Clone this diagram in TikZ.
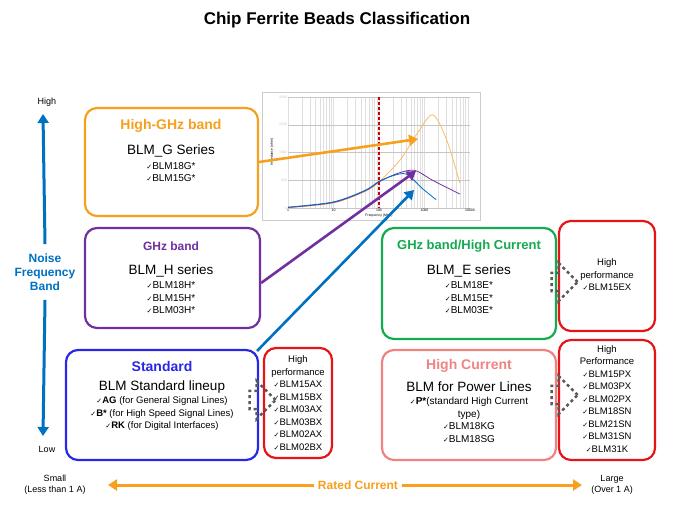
\documentclass[tikz,border=0pt]{standalone}
\usepackage{fontspec}
\setmainfont{Liberation Sans}
\newfontfamily\symfont{DejaVu Sans}
\usetikzlibrary{shapes, shapes.arrows, arrows.meta, calc, positioning}
\definecolor{mOrange}{RGB}{246,160,30}
\definecolor{mPurple}{RGB}{112,48,160}
\definecolor{mBlue}{RGB}{40,40,230}
\definecolor{mGreen}{RGB}{20,170,80}
\definecolor{mPink}{RGB}{240,130,130}
\definecolor{mRed}{RGB}{230,20,20}
\definecolor{mAxis}{RGB}{0,112,192}
\newcommand{\ck}{{\symfont\fontsize{7}{8}\selectfont ✓}}
\tikzstyle{group} = [rectangle, rounded corners=12pt, line width=2.2pt, fill=white]
\tikzstyle{perf} = [rectangle, rounded corners=12pt, line width=2.2pt, draw=mRed, fill=white]
\tikzstyle{head} = [font=\bfseries\fontsize{14}{15}\selectfont]
\tikzstyle{series} = [font=\fontsize{13.5}{14}\selectfont]
\tikzstyle{items} = [font=\fontsize{10}{12.5}\selectfont, align=center]
\tikzstyle{upgrade} = [single arrow, draw=gray!70!black, dashed, line width=2.5pt,
    minimum height=26pt, minimum width=38pt, single arrow head extend=5pt]
\tikzstyle{pointer} = [line width=2.6pt, -{Triangle[length=9pt,width=11pt]}]
\tikzstyle{band} = [line width=3pt, mAxis, -{Triangle[length=9pt,width=11pt]}]
\tikzstyle{rated} = [line width=3pt, mOrange, -{Triangle[length=9pt,width=11pt]}]
\begin{document}
\begin{tikzpicture}[x=1pt, y=-1pt,
    declare function={fx(\f)=288+45.5*log10(\f); zy(\z)=208-0.0555*\z;}]
    \useasboundingbox (0,0) rectangle (675,506);
    % Title
    \node [font=\bfseries\fontsize{17}{19}\selectfont] (title) at (337,20) {Chip Ferrite Beads Classification};
    % Chart
    \node [draw=gray!40, minimum width=218pt, minimum height=128pt, inner sep=0] (chart) at (371,156) {};
    \foreach \d in {0,1,2,3}
        \foreach \m in {1,...,9}
            \draw [gray!25, line width=0.3pt] ({fx(\m*10^\d)},97) -- ({fx(\m*10^\d)},208);
    \foreach \z in {0,500,1000,1500,2000}
        \draw [gray!45, line width=0.4pt] (288,{zy(\z)}) -- (470,{zy(\z)})
            node [at start, left, font=\fontsize{3.5}{4}\selectfont, inner sep=1pt] {\z};
    \foreach \f/\t in {1/1,10/10,100/100,1000/1000,10000/10000}
        \node [font=\fontsize{3.5}{4}\selectfont, inner sep=1pt, below] at ({fx(\f)},208) {\t};
    \node [font=\fontsize{3.5}{4}\selectfont, rotate=90] (ylab) at (272,152) {Impedance (ohm)};
    \node [font=\fontsize{3.5}{4}\selectfont] (xlab) at (379,216) {Frequency (MHz)};
    \draw [mOrange!70, line width=0.8pt] plot [smooth] coordinates {({fx(1)},{zy(5)}) ({fx(10)},{zy(90)}) ({fx(50)},{zy(300)}) ({fx(100)},{zy(470)}) ({fx(300)},{zy(880)}) ({fx(700)},{zy(1350)}) ({fx(1500)},{zy(1680)}) ({fx(3000)},{zy(1250)}) ({fx(6000)},{zy(450)})};
    \draw [mPurple, line width=0.8pt] plot [smooth] coordinates {({fx(1)},{zy(10)}) ({fx(10)},{zy(100)}) ({fx(50)},{zy(310)}) ({fx(100)},{zy(470)}) ({fx(250)},{zy(620)}) ({fx(600)},{zy(680)}) ({fx(1500)},{zy(500)}) ({fx(6000)},{zy(250)})};
    \draw [mAxis, line width=0.8pt] plot [smooth] coordinates {({fx(1)},{zy(15)}) ({fx(10)},{zy(110)}) ({fx(50)},{zy(320)}) ({fx(100)},{zy(480)}) ({fx(200)},{zy(580)}) ({fx(400)},{zy(610)}) ({fx(900)},{zy(350)}) ({fx(1800)},{zy(150)})};
    \draw [red!80!black, line width=2.5pt, dash pattern=on 2.5pt off 2.5pt] ({fx(100)},97) -- ({fx(100)},208);
    % Groups
    \node [group, draw=mOrange, minimum width=173pt, minimum height=108pt] (ghigh) at (171.5,162) {};
    \node [group, draw=mPurple, minimum width=175pt, minimum height=100pt] (ghz) at (172.5,278) {};
    \node [group, draw=mBlue, minimum width=192pt, minimum height=110pt] (std) at (162,405) {};
    \node [perf, minimum width=68pt, minimum height=110pt] (stdperf) at (298,403) {};
    \node [group, draw=mGreen, minimum width=174pt, minimum height=111pt] (ghzcur) at (469,283.5) {};
    \node [perf, minimum width=96pt, minimum height=110pt] (experf) at (607,276) {};
    \node [group, draw=mPink, minimum width=174pt, minimum height=110pt] (cur) at (469,405) {};
    \node [perf, minimum width=96pt, minimum height=120pt] (pxperf) at (607,400) {};
    % Texts
    \node [head, text=mOrange] at (171,126) {High-GHz band};
    \node [series] at (171,151) {BLM\_G Series};
    \node [items] at (171,172) {\ck BLM18G*\\ \ck BLM15G*};
    \node [head, text=mPurple, font=\bfseries\fontsize{12}{13}\selectfont] at (171,246) {GHz band};
    \node [series] at (171,271) {BLM\_H series};
    \node [items] at (171,298) {\ck BLM18H*\\ \ck BLM15H*\\ \ck BLM03H*};
    \node [head, text=mBlue] at (162,366) {Standard};
    \node [series] at (162,387) {BLM Standard lineup};
    \node [items, font=\fontsize{9.5}{12.5}\selectfont] at (162,414) {\ck\textbf{AG} (for General Signal Lines)\\ \ck\textbf{B*} (for High Speed Signal Lines)\\ \ck\textbf{RK} (for Digital Interfaces)};
    \node [items, font=\fontsize{9.5}{12.5}\selectfont] at (298,403) {High\\performance\\ \ck BLM15AX\\ \ck BLM15BX\\ \ck BLM03AX\\ \ck BLM03BX\\ \ck BLM02AX\\ \ck BLM02BX};
    \node [head, text=mGreen, font=\bfseries\fontsize{13}{14}\selectfont] at (469,246) {GHz band/High Current};
    \node [series] at (469,271) {BLM\_E series};
    \node [items] at (469,298) {\ck BLM18E*\\ \ck BLM15E*\\ \ck BLM03E*};
    \node [items, font=\fontsize{9.5}{12.5}\selectfont] at (607,275) {High\\performance\\ \ck BLM15EX};
    \node [head, text=mPink] at (469,366) {High Current};
    \node [series] at (469,387) {BLM for Power Lines};
    \node [items] at (469,420) {\ck\textbf{P*}(standard High Current\\type)\\ \ck BLM18KG\\ \ck BLM18SG};
    \node [items, font=\fontsize{9.5}{12.5}\selectfont] at (607,399) {High\\Performance\\ \ck BLM15PX\\ \ck BLM03PX\\ \ck BLM02PX\\ \ck BLM18SN\\ \ck BLM21SN\\ \ck BLM31SN\\ \ck BLM31K};
    % Dashed upgrade arrows
    \node [upgrade] (up1) at (258,400) {};
    \node [upgrade] (up2) at (560,282) {};
    \node [upgrade] (up3) at (560,395) {};
    % Pointers into chart
    \coordinate (tipG) at (418,139);
    \coordinate (tipH) at (416,171);
    \coordinate (tipS) at (414,190);
    \draw [pointer, mOrange] (ghigh.east |- 0,162) -- (tipG);
    \draw [pointer, mPurple] (ghz.east |- 0,283) -- (tipH);
    \draw [pointer, mAxis] (std.north east) ++(-2,2) -- (tipS);
    % Axes
    \node [font=\fontsize{9}{10}\selectfont] (high) at (47,102) {High};
    \node [font=\fontsize{9}{10}\selectfont] (low) at (47,449) {Low};
    \node [font=\bfseries\fontsize{12}{14}\selectfont, text=mAxis, align=center] (noise) at (45,272) {Noise\\Frequency\\Band};
    \draw [band] (noise.north) ++(0,-6) -- (43,114);
    \draw [band] (noise.south) ++(0,6) -- (43,436);
    \node [font=\fontsize{9}{11}\selectfont, align=center] (small) at (55,485) {Small\\(Less than 1 A)};
    \node [font=\fontsize{9}{11}\selectfont, align=center] (large) at (612,485) {Large\\(Over 1 A)};
    \node [font=\bfseries\fontsize{12}{14}\selectfont, text=mOrange] (rc) at (358,485) {Rated Current};
    \draw [rated] (rc.west) -- (108,485);
    \draw [rated] (rc.east) -- (582,485);
\end{tikzpicture}
\end{document}
